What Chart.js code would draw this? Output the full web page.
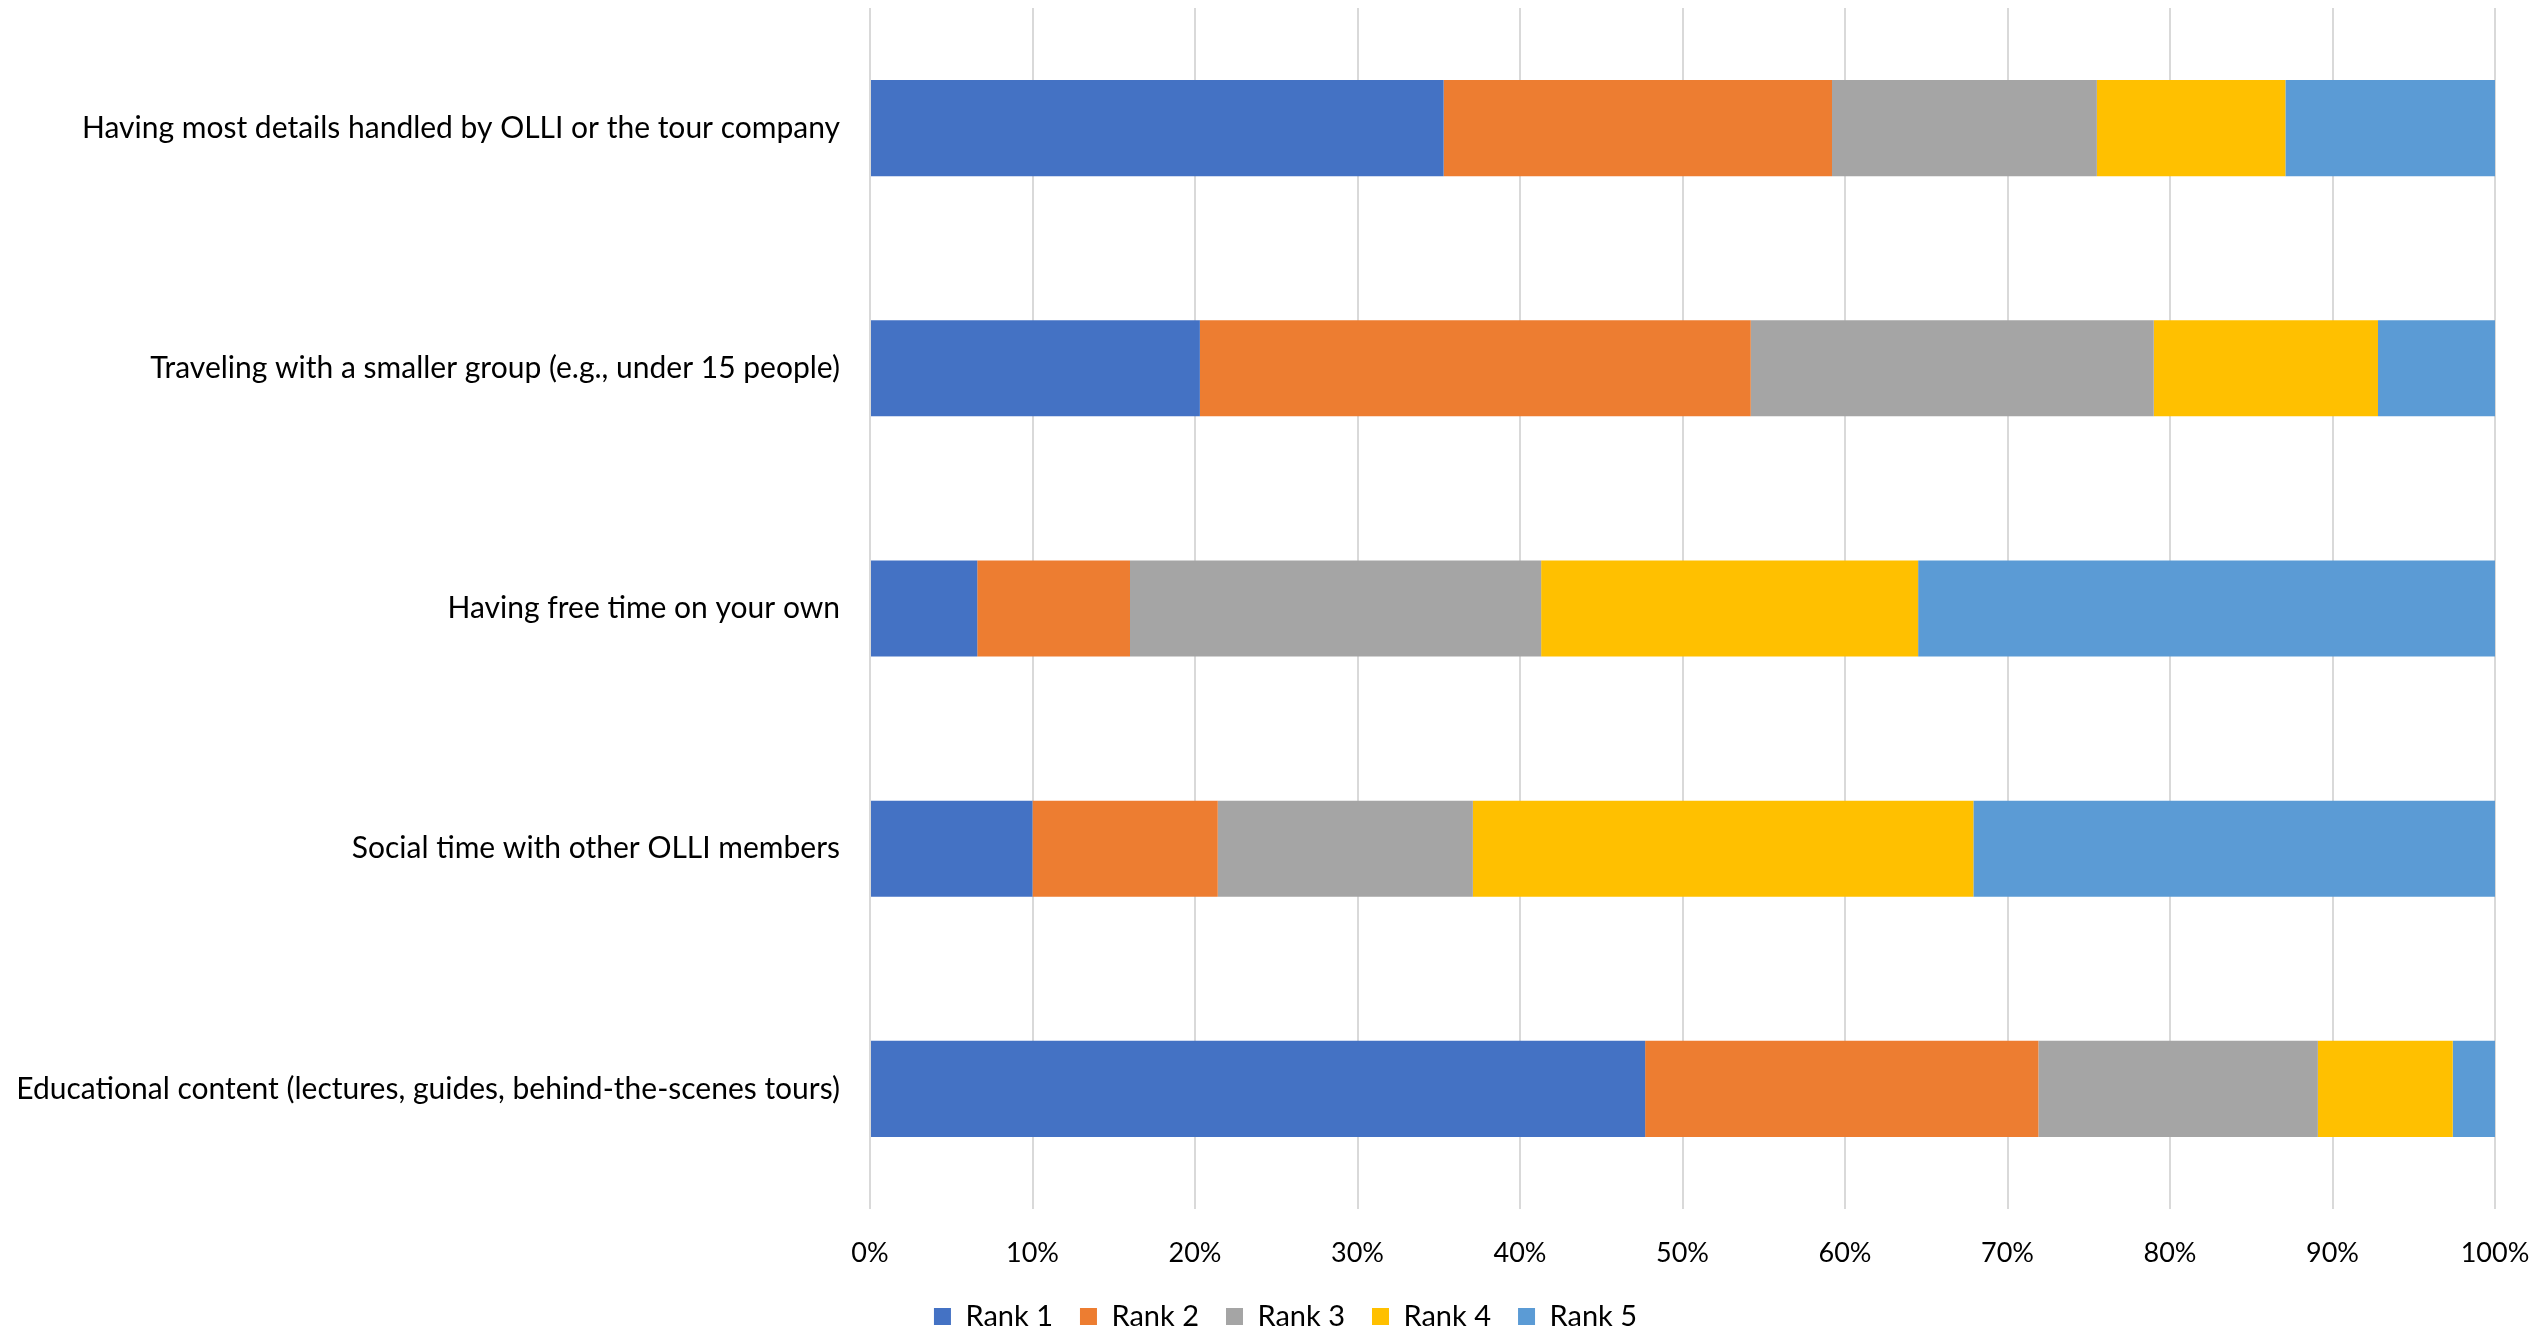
<!DOCTYPE html>
<html lang="en">

<head>
    <meta charset="UTF-8">
    <title>Travel preferences ranking</title>
    <script src="https://cdn.jsdelivr.net/npm/chart.js@4.4.1/dist/chart.umd.min.js"></script>
    <style>
        body { margin: 0; background: #fff; }
        #wrap { width: 2542px; height: 1331px; position: relative; }
    </style>
</head>

<body>
    <div id="wrap"><canvas id="myChart"></canvas></div>
</body>
<script>
    const categories = [
        'Having most details handled by OLLI or the tour company',
        'Traveling with a smaller group (e.g., under 15 people)',
        'Having free time on your own',
        'Social time with other OLLI members',
        'Educational content (lectures, guides, behind-the-scenes tours)'
    ];
    const rank1 = [35.3, 20.3, 6.6, 10.0, 47.7];
    const rank2 = [23.9, 33.9, 9.4, 11.4, 24.2];
    const rank3 = [16.3, 24.8, 25.3, 15.7, 17.2];
    const rank4 = [11.6, 13.8, 23.2, 30.8, 8.3];
    const rank5 = [12.9, 7.2, 35.5, 32.1, 2.6];
    const seriesNames = ['Rank 1', 'Rank 2', 'Rank 3', 'Rank 4', 'Rank 5'];
    const colors = ['#4472C4', '#ED7D31', '#A5A5A5', '#FFC000', '#5B9BD5'];

    const font = "Lato, 'Noto Sans', sans-serif";
    const series = [rank1, rank2, rank3, rank4, rank5];

    const datasets = series.map((vals, i) => ({
        label: seriesNames[i],
        data: vals,
        backgroundColor: colors[i],
        borderWidth: 0,
        barPercentage: 0.4,
        categoryPercentage: 1.0
    }));

    // nudge the legend a bit to the right, like in the original
    const shiftLegend = {
        id: 'shiftLegend',
        afterLayout(chart) {
            if (chart.legend) {
                chart.legend.left += 33;
                chart.legend.right += 33;
            }
        }
    };

    var ctx = document.getElementById('myChart').getContext('2d');
    var chart = new Chart(ctx, {
        type: 'bar',
        data: {
            labels: categories,
            datasets: datasets
        },
        options: {
            indexAxis: 'y',
            responsive: true,
            maintainAspectRatio: false,
            animation: false,
            layout: { padding: { top: 8, right: 47, left: 10, bottom: -10 } },
            scales: {
                x: {
                    stacked: true,
                    min: 0,
                    max: 100,
                    ticks: {
                        stepSize: 10,
                        callback: (v) => v + '%',
                        color: '#000',
                        font: { family: font, size: 27 },
                        padding: 28
                    },
                    grid: { color: '#d9d9d9', lineWidth: 2, drawTicks: false },
                    border: { display: false },
                    afterFit: (scale) => {
                        scale.height = 66;
                        scale.paddingLeft = 0;
                        scale.paddingRight = 0;
                    }
                },
                y: {
                    stacked: true,
                    ticks: {
                        color: '#000',
                        font: { family: font, size: 30 },
                        padding: 22
                    },
                    grid: { display: false },
                    border: { display: false },
                    afterFit: (scale) => {
                        scale.width = 860;
                        scale.paddingTop = 0;
                        scale.paddingBottom = 0;
                    }
                }
            },
            plugins: {
                legend: {
                    position: 'bottom',
                    labels: {
                        color: '#000',
                        font: { family: font, size: 29 },
                        boxWidth: 17,
                        boxHeight: 17,
                        padding: 27
                    }
                },
                tooltip: { enabled: false }
            }
        },
        plugins: [shiftLegend]
    });
</script>

</html>
